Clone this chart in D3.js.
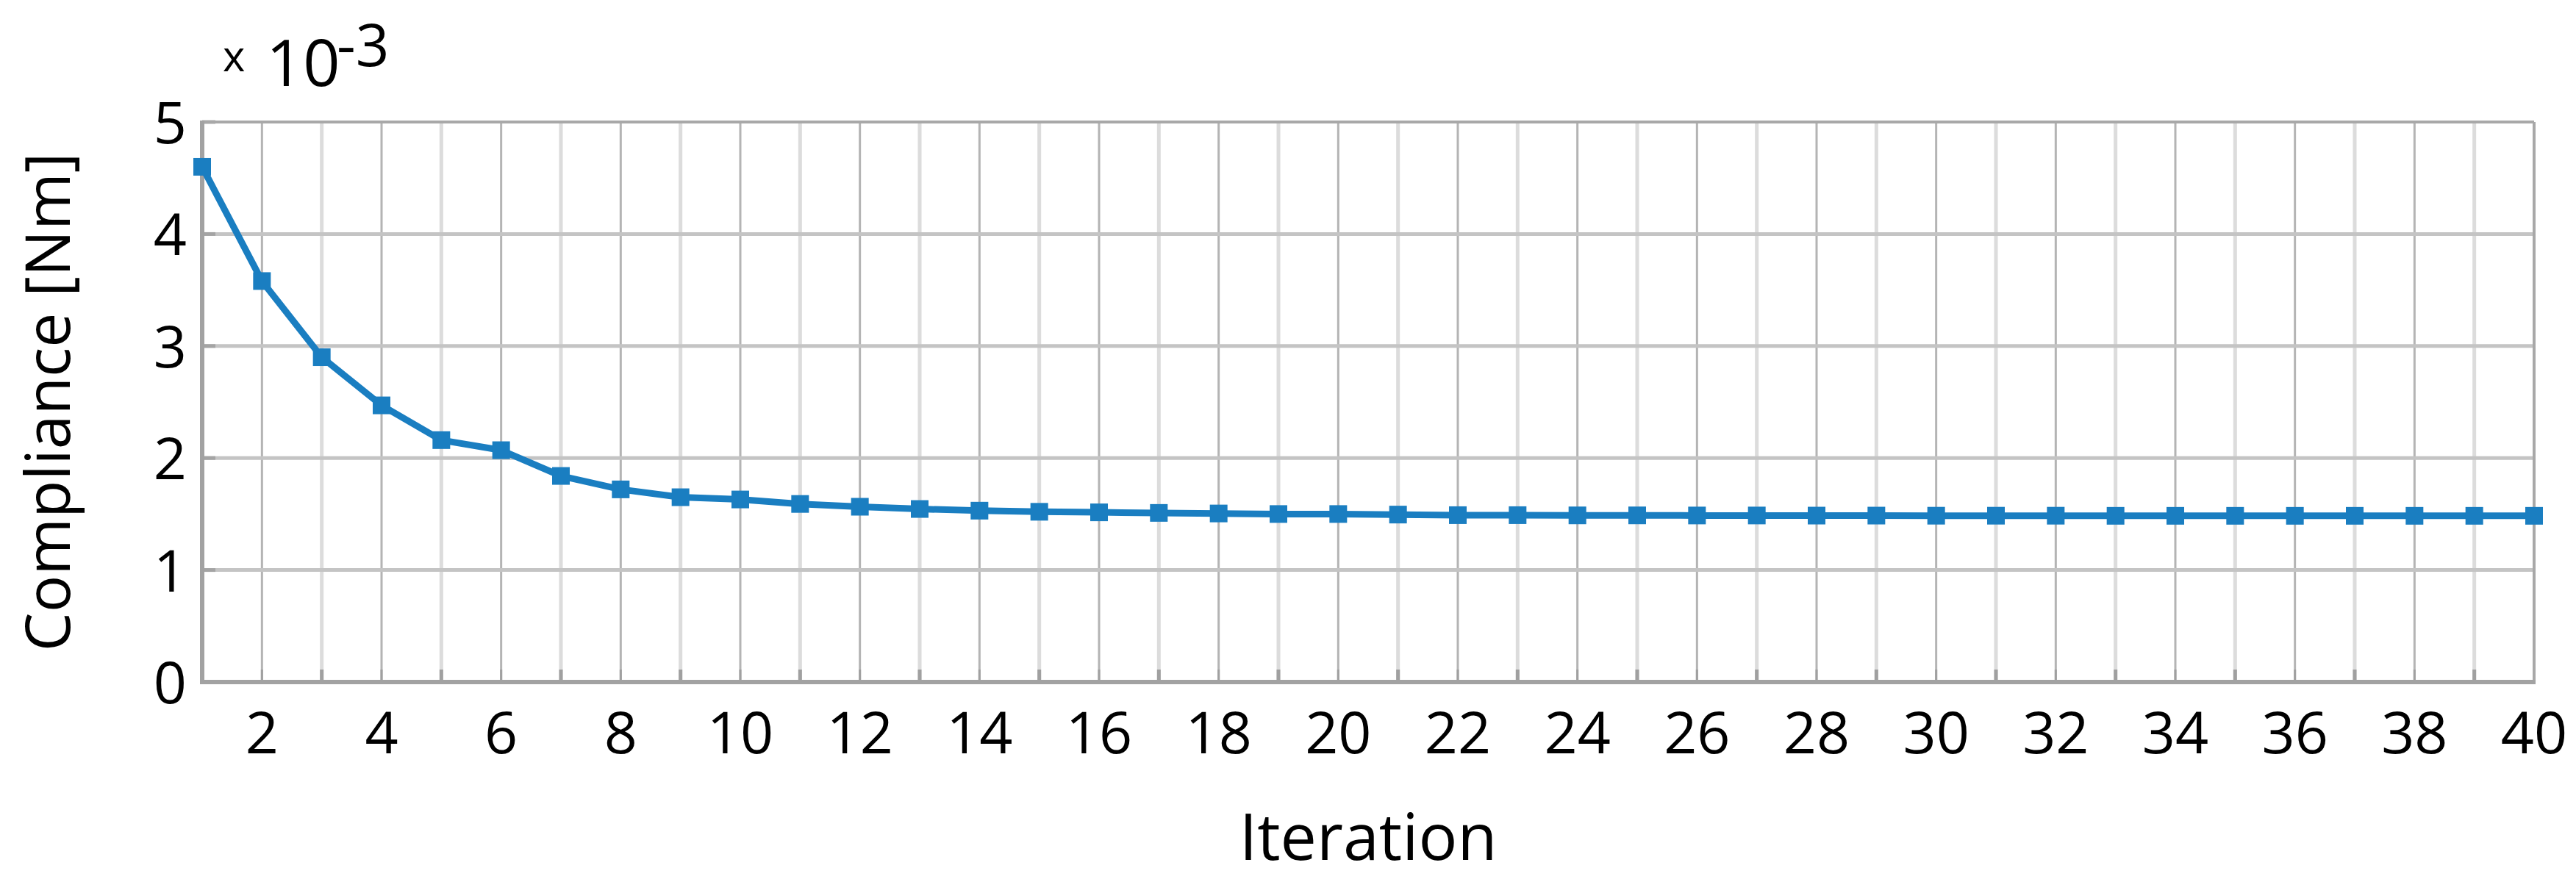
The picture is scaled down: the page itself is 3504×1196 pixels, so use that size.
<!DOCTYPE html>
<html>
<head>
<meta charset="utf-8">
<script src="https://cdn.jsdelivr.net/npm/d3@7"></script>
<style>
  html, body { margin: 0; padding: 0; background: #ffffff; }
  svg { display: block; }
  text { font-family: "Open Sans", "Noto Sans", sans-serif; fill: #000; }
</style>
</head>
<body>
<svg id="chart" width="3504" height="1196"></svg>
<script>
// ---- data ----
const iterations = d3.range(1, 41);
const compliance = [
  4.60, 3.58, 2.90, 2.47, 2.16, 2.07, 1.84, 1.72, 1.65, 1.63,
  1.59, 1.565, 1.545, 1.53, 1.52, 1.515, 1.51, 1.505, 1.50, 1.50,
  1.495, 1.49, 1.49, 1.488, 1.488, 1.487, 1.487, 1.486, 1.486, 1.485,
  1.485, 1.485, 1.484, 1.484, 1.484, 1.484, 1.484, 1.484, 1.484, 1.484
];
const xTickValues = d3.range(2, 41, 2);
const yTickValues = [0, 1, 2, 3, 4, 5];
const xTitle = "Iteration";
const yTitle = "Compliance [Nm]";

// ---- layout ----
const svg = d3.select("#chart");
const pL = 275, pR = 3447, pT = 166, pB = 928;
const x = d3.scaleLinear().domain([1, 40]).range([pL, pR]);
const y = d3.scaleLinear().domain([0, 5]).range([pB, pT]);

// vertical gridlines (odd = light, even = darker)
svg.append("g").selectAll("line").data(iterations.filter(d => d > 1 && d < 40))
  .join("line")
  .attr("x1", d => x(d)).attr("x2", d => x(d))
  .attr("y1", pT).attr("y2", pB)
  .attr("stroke", d => d % 2 === 0 ? "#b4b4b4" : "#dcdcdc")
  .attr("stroke-width", d => d % 2 === 0 ? 3 : 5);

// horizontal gridlines
svg.append("g").selectAll("line").data(yTickValues.filter(d => d > 0 && d < 5))
  .join("line")
  .attr("x1", pL).attr("x2", pR)
  .attr("y1", d => y(d)).attr("y2", d => y(d))
  .attr("stroke", "#c4c4c4").attr("stroke-width", 5);

// inner ticks
svg.append("g").selectAll("line").data(iterations)
  .join("line")
  .attr("x1", d => x(d)).attr("x2", d => x(d))
  .attr("y1", pB).attr("y2", pB - 17)
  .attr("stroke", "#a0a0a0").attr("stroke-width", d => d % 2 === 0 ? 3 : 5);
svg.append("g").selectAll("line").data(yTickValues)
  .join("line")
  .attr("x1", pL).attr("x2", pL + 18)
  .attr("y1", d => y(d)).attr("y2", d => y(d))
  .attr("stroke", "#a4a4a4").attr("stroke-width", 5);

// frame
svg.append("line").attr("x1", pL).attr("x2", pR).attr("y1", pT).attr("y2", pT)
  .attr("stroke", "#a8a8a8").attr("stroke-width", 4);
svg.append("line").attr("x1", pR).attr("x2", pR).attr("y1", pT).attr("y2", pB)
  .attr("stroke", "#a8a8a8").attr("stroke-width", 4);
svg.append("line").attr("x1", pL).attr("x2", pL).attr("y1", pT - 2).attr("y2", pB + 3)
  .attr("stroke", "#a2a2a2").attr("stroke-width", 6);
svg.append("line").attr("x1", pL - 3).attr("x2", pR + 2).attr("y1", pB).attr("y2", pB)
  .attr("stroke", "#a2a2a2").attr("stroke-width", 6);

// tick labels
svg.append("g").selectAll("text").data(xTickValues)
  .join("text")
  .attr("x", d => x(d)).attr("y", 1025)
  .attr("text-anchor", "middle")
  .attr("font-size", 79)
  .text(d => d);
svg.append("g").selectAll("text").data(yTickValues)
  .join("text")
  .attr("x", 254).attr("y", d => y(d) + 29)
  .attr("text-anchor", "end")
  .attr("font-size", 79)
  .text(d => d);

// axis titles
svg.append("text")
  .attr("x", (pL + pR) / 2).attr("y", 1170)
  .attr("text-anchor", "middle")
  .attr("font-size", 88)
  .text(xTitle);
svg.append("text")
  .attr("transform", `translate(95, ${(pT + pB) / 2}) rotate(-90)`)
  .attr("text-anchor", "middle")
  .attr("font-size", 84)
  .text(yTitle);

// exponent label
const expo = svg.append("text");
expo.append("tspan").attr("x", 303).attr("y", 97).attr("font-size", 58).text("x");
expo.append("tspan").attr("x", 362).attr("y", 117).attr("font-size", 88).text("10");
expo.append("tspan").attr("x", 458).attr("y", 90).attr("font-size", 80).text("-3");

// series
const blue = "#1a7ec1";
svg.append("path")
  .datum(iterations.map((d, i) => [d, compliance[i]]))
  .attr("fill", "none").attr("stroke", blue).attr("stroke-width", 9)
  .attr("stroke-linejoin", "round")
  .attr("d", d3.line().x(d => x(d[0])).y(d => y(d[1])));
svg.append("g").selectAll("rect").data(iterations)
  .join("rect")
  .attr("x", d => x(d) - 12).attr("y", (d, i) => y(compliance[i]) - 12)
  .attr("width", 24).attr("height", 24)
  .attr("fill", blue);
</script>
</body>
</html>
